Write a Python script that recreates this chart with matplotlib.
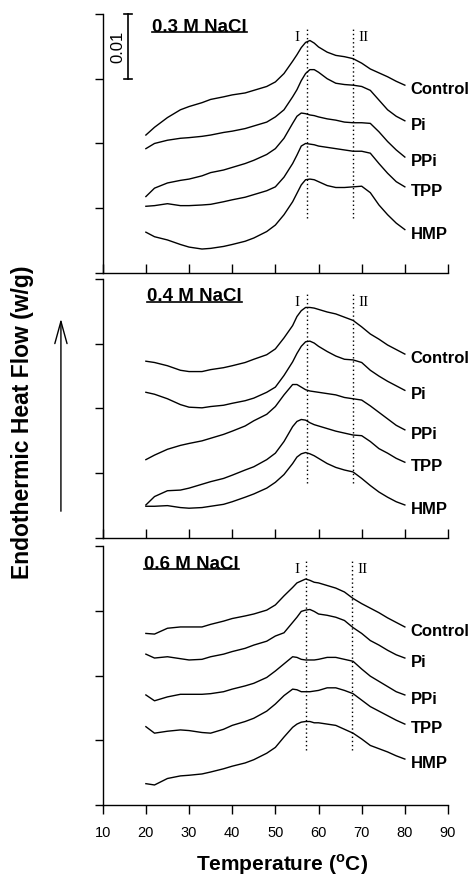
import matplotlib
matplotlib.use("Agg")
import matplotlib.pyplot as plt
from matplotlib.lines import Line2D

plt.rcParams['font.family'] = ['Liberation Sans', 'DejaVu Sans']
plt.rcParams['mathtext.fontset'] = 'custom'
plt.rcParams['mathtext.rm'] = 'Liberation Sans'
plt.rcParams['mathtext.bf'] = 'Liberation Sans:bold'

# temperature grid (deg C) and heat flow (mW/g, stacked offsets)
temps = [20, 22, 25, 28, 30, 33, 35, 38, 40, 43, 45, 48, 50, 52, 54, 55,
         56, 57, 58, 59, 60, 62, 64, 66, 68, 70, 72, 74, 76, 78, 80]

samples = ["Control", "Pi", "PPi", "TPP", "HMP"]
salts = ["0.3 M NaCl", "0.4 M NaCl", "0.6 M NaCl"]

# 0.3 M NaCl
control_03 = [21.3, 22.5, 24.0, 25.2, 25.7, 26.3, 26.8, 27.2, 27.5, 27.8, 28.2, 28.8, 29.5, 30.8, 32.7, 33.7,
              34.8, 35.6, 35.9, 35.5, 34.9, 34.1, 33.6, 33.4, 33.1, 32.4, 31.5, 30.9, 30.3, 29.6, 29.0]
pi_03 = [19.2, 20.0, 20.5, 20.8, 20.9, 21.1, 21.3, 21.7, 21.9, 22.3, 22.7, 23.3, 24.1, 25.2, 27.2, 28.3,
         29.7, 30.8, 31.4, 31.4, 31.0, 30.0, 29.3, 29.1, 29.0, 28.8, 28.2, 26.7, 25.2, 24.2, 23.5]
ppi_03 = [11.8, 13.1, 13.9, 14.3, 14.5, 15.0, 15.5, 15.9, 16.3, 16.9, 17.4, 18.3, 19.2, 20.8, 23.1, 24.2,
          24.7, 24.6, 24.4, 24.3, 24.1, 23.8, 23.6, 23.3, 23.2, 23.2, 23.1, 21.8, 20.3, 19.0, 17.9]
tpp_03 = [10.3, 10.4, 10.7, 10.4, 10.4, 10.5, 10.6, 11.0, 11.3, 11.7, 12.1, 12.7, 13.3, 14.8, 16.9, 18.2,
          19.6, 20.0, 19.9, 19.8, 19.6, 19.4, 19.2, 19.0, 18.8, 18.8, 18.5, 16.9, 15.4, 14.1, 13.3]
hmp_03 = [6.3, 5.6, 5.1, 4.4, 4.0, 3.7, 3.8, 4.1, 4.4, 4.9, 5.4, 6.4, 7.4, 9.0, 11.0, 12.3,
          13.6, 14.4, 14.5, 14.4, 14.1, 13.5, 13.2, 13.2, 13.3, 13.4, 12.4, 10.5, 9.0, 7.7, 6.7]

# 0.4 M NaCl
control_04 = [27.3, 27.1, 26.6, 25.9, 25.7, 25.7, 26.0, 26.3, 26.6, 27.1, 27.6, 28.3, 29.2, 30.9, 32.8, 34.2,
              35.1, 35.6, 35.6, 35.5, 35.3, 34.9, 34.6, 34.1, 33.6, 32.6, 31.5, 30.7, 29.8, 29.1, 28.4]
pi_04 = [22.5, 22.2, 21.5, 20.6, 20.2, 20.1, 20.3, 20.5, 20.8, 21.2, 21.6, 22.5, 23.3, 25.1, 27.2, 28.5,
         29.6, 30.3, 30.4, 30.1, 29.6, 28.8, 28.1, 27.6, 27.5, 27.1, 25.9, 25.0, 24.2, 23.5, 22.8]
ppi_04 = [12.1, 12.8, 13.7, 14.3, 14.6, 15.0, 15.4, 16.0, 16.5, 17.3, 18.1, 19.1, 20.3, 22.1, 23.7, 23.7,
          23.3, 22.9, 22.7, 22.6, 22.5, 22.3, 22.1, 21.7, 21.5, 21.3, 20.4, 19.4, 18.4, 17.4, 16.7]
tpp_04 = [5.1, 6.4, 7.3, 7.4, 7.7, 8.3, 8.7, 9.2, 9.7, 10.5, 11.0, 12.1, 13.1, 14.9, 17.2, 18.0,
          18.3, 18.2, 17.8, 17.5, 17.3, 16.9, 16.5, 16.2, 15.9, 15.8, 14.9, 13.8, 13.1, 12.3, 11.7]
hmp_04 = [4.9, 4.9, 5.0, 4.7, 4.6, 4.7, 4.9, 5.2, 5.6, 6.3, 6.8, 7.7, 8.6, 9.8, 11.5, 12.5,
          13.0, 13.2, 13.0, 12.7, 12.3, 11.5, 10.9, 10.5, 10.2, 9.2, 8.1, 7.1, 6.3, 5.6, 5.1]

# 0.6 M NaCl
control_06 = [26.5, 26.4, 27.3, 27.5, 27.5, 27.5, 27.9, 28.4, 28.8, 29.2, 29.5, 30.1, 30.9, 32.3, 33.6, 34.3,
              34.6, 34.9, 34.7, 34.4, 34.3, 33.9, 33.5, 32.9, 31.9, 31.1, 30.4, 29.7, 28.9, 28.2, 27.5]
pi_06 = [23.3, 22.7, 22.9, 22.6, 22.4, 22.5, 22.9, 23.3, 23.7, 24.2, 24.7, 25.3, 26.1, 26.6, 28.2, 29.0,
         29.9, 30.1, 30.2, 29.9, 29.5, 29.3, 29.0, 28.5, 27.4, 26.5, 25.4, 24.7, 23.9, 23.2, 22.7]
ppi_06 = [17.0, 16.1, 16.7, 17.1, 17.1, 17.1, 17.2, 17.5, 17.9, 18.4, 18.8, 19.7, 20.7, 21.8, 22.9, 22.8,
          22.5, 22.4, 22.4, 22.4, 22.5, 22.8, 22.8, 22.5, 22.2, 21.0, 19.9, 19.1, 18.3, 17.5, 17.0]
tpp_06 = [12.1, 11.1, 11.4, 11.6, 11.5, 11.2, 11.1, 11.7, 12.3, 12.9, 13.4, 14.5, 15.6, 16.9, 17.9, 17.8,
          17.5, 17.5, 17.5, 17.6, 17.7, 18.1, 18.1, 17.7, 17.2, 16.2, 15.2, 14.5, 13.8, 13.1, 12.5]
hmp_06 = [3.3, 3.1, 4.1, 4.5, 4.6, 4.8, 5.1, 5.6, 6.0, 6.5, 7.0, 8.0, 8.9, 10.5, 12.0, 12.5,
          12.8, 12.9, 12.9, 12.7, 12.7, 12.5, 12.3, 11.7, 11.1, 10.2, 9.2, 8.7, 8.2, 7.6, 7.1]

# transition temperatures marked with dotted lines
peak_I = [57.3, 57.3, 57.1]
peak_II = [68.1, 68.1, 67.8]

panels = [
    [control_03, pi_03, ppi_03, tpp_03, hmp_03],
    [control_04, pi_04, ppi_04, tpp_04, hmp_04],
    [control_06, pi_06, ppi_06, tpp_06, hmp_06],
]
title_y = [38.1, 37.4, 37.3]
title_x = [21.4, 20.3, 19.6]

fig = plt.figure(figsize=(4.76, 8.79), dpi=100)
left, width, height = 0.2158, 0.7254, 0.2947
bottoms = [0.6883, 0.3868, 0.0830]

titles = []
axes = []
for i, curves in enumerate(panels):
    ax = fig.add_axes([left, bottoms[i], width, height])
    axes.append(ax)
    for name, vals in zip(samples, curves):
        ax.plot(temps, [v / 1000 for v in vals], color='black', lw=1.0)
        ax.annotate(name, (temps[-1], vals[-1] / 1000), xytext=(4, -2.5),
                    textcoords='offset points', fontsize=12, fontweight='bold',
                    ha='left', va='center', annotation_clip=False)

    # dotted lines for peaks I and II
    for t in (peak_I[i], peak_II[i]):
        ax.plot([t, t], [0.0085, 0.0378], color='black', lw=1.0, linestyle=(0, (1, 2)))
    ax.text(peak_I[i] - 2.2, 0.0365, "I", family='Liberation Serif', fontsize=11,
            ha='center', va='center')
    ax.text(peak_II[i] + 2.4, 0.0365, "II", family='Liberation Serif', fontsize=11,
            ha='center', va='center')

    t = ax.text(title_x[i], title_y[i] / 1000, salts[i], fontsize=13.5, fontweight='bold',
                ha='left', va='center')
    titles.append((ax, t))

    ax.set_xlim(10, 90)
    ax.set_ylim(0, 0.04)
    ax.set_xticks(range(10, 91, 10))
    ax.set_yticks([0, 0.01, 0.02, 0.03, 0.04])
    ax.set_yticklabels([])
    ax.spines['top'].set_visible(False)
    ax.spines['right'].set_visible(False)
    for s in ('left', 'bottom'):
        ax.spines[s].set_linewidth(1.0)
    ax.tick_params(axis='y', direction='out', length=5.8, width=1.0)
    if i < 2:
        ax.tick_params(axis='x', direction='in', length=6.5, width=1.0, labelbottom=False)
    else:
        ax.tick_params(axis='x', direction='out', length=6.5, width=1.0, pad=8, labelsize=10.5)

# 0.01 W/g scale bar in the top panel
ax0 = axes[0]
ax0.plot([15.9, 15.9], [0.03, 0.04], color='black', lw=1.2, clip_on=False)
ax0.plot([14.9, 16.8], [0.04, 0.04], color='black', lw=1.2, clip_on=False)
ax0.plot([14.9, 16.8], [0.03, 0.03], color='black', lw=1.2, clip_on=False)
ax0.text(13.4, 0.035, "0.01", rotation=90, fontsize=12, ha='center', va='center')

fig.text(0.048, 0.52, "Endothermic Heat Flow (w/g)", rotation=90, fontsize=16.5,
         fontweight='bold', ha='center', va='center')
fig.text(0.5935, 0.009, r'Temperature ($^{\mathbf{o}}$C)', fontsize=15, fontweight='bold',
         ha='center', va='baseline')
fig.patches.append(plt.matplotlib.patches.FancyArrowPatch(
    (0.128, 0.4141), (0.128, 0.6394), transform=fig.transFigure,
    arrowstyle='->,head_length=0.8,head_width=0.22', mutation_scale=20,
    color='black', lw=1.0))

# underline the salt titles
fig.canvas.draw()
renderer = fig.canvas.get_renderer()
inv = fig.transFigure.inverted()
for ax, t in titles:
    bb = t.get_window_extent(renderer)
    (x0, y0), (x1, _) = inv.transform([(bb.x0, bb.y0 + 2.5), (bb.x1, bb.y0 + 2.5)])
    fig.add_artist(Line2D([x0, x1], [y0, y0], transform=fig.transFigure, color='black', lw=1.2))

fig.savefig("out.png", dpi=100)
